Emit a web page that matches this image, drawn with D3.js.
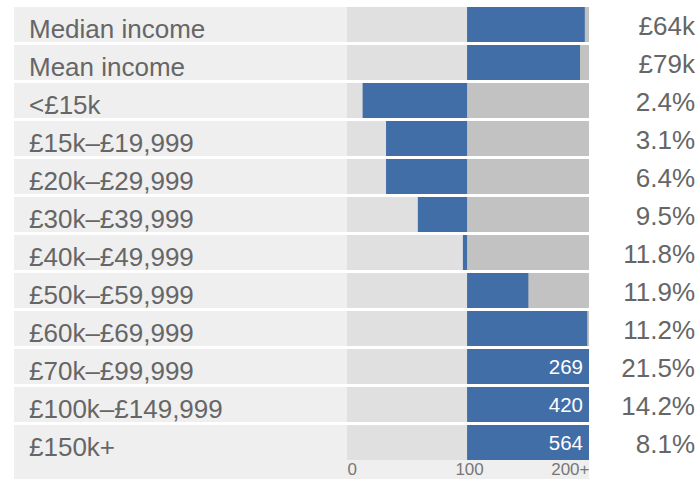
<!DOCTYPE html>
<html>
<head>
<meta charset="utf-8">
<script src="https://cdn.jsdelivr.net/npm/d3@7"></script>
<style>
  html, body { margin: 0; padding: 0; background: #fff; }
  svg { display: block; font-family: "Liberation Sans", Arial, sans-serif; }
</style>
</head>
<body>
<div id="chart"></div>
<script>
// Rows of the chart, top to bottom
const categories = [
    'Median income', 'Mean income', '<£15k', '£15k–£19,999', '£20k–£29,999',
    '£30k–£39,999', '£40k–£49,999', '£50k–£59,999', '£60k–£69,999',
    '£70k–£99,999', '£100k–£149,999', '£150k+'
];
// Index value (100 = reference)
const indexValues = [198, 194, 13, 32.5, 32.5, 59, 96.5, 151, 200, 269, 420, 564];
// Right-hand column
const rightLabels = ['£64k', '£79k', '2.4%', '3.1%', '6.4%', '9.5%', '11.8%', '11.9%', '11.2%', '21.5%', '14.2%', '8.1%'];
// Axis ticks
const tickValues = [0, 100, 201.5];
const tickLabels = ['0', '100', '200+'];

const W = 697, H = 479;
const svg = d3.select('#chart').append('svg')
    .attr('width', W)
    .attr('height', H);

const x = d3.scaleLinear()
    .domain([0, 201.5])
    .range([347, 589])
    .clamp(true);

const y = d3.scaleBand()
    .domain(categories)
    .range([7, 460])
    .paddingInner(0.079);

const panelLeft = 14;
const data = categories.map((c, i) => ({ name: c, value: indexValues[i], right: rightLabels[i] }));

// bottom strip under the axis
svg.append('rect')
    .attr('x', panelLeft)
    .attr('y', y(categories[categories.length - 1]) + y.bandwidth())
    .attr('width', x(201.5) - panelLeft)
    .attr('height', H)
    .attr('fill', '#efefef');

const rows = svg.selectAll('.row')
    .data(data)
    .enter()
    .append('g')
    .attr('class', 'row')
    .attr('transform', d => `translate(0,${y(d.name)})`);

// label panel
rows.append('rect')
    .attr('x', panelLeft)
    .attr('width', x(0) - panelLeft)
    .attr('height', y.bandwidth())
    .attr('fill', '#efefef');

// 0-100 zone
rows.append('rect')
    .attr('x', x(0))
    .attr('width', x(100) - x(0))
    .attr('height', y.bandwidth())
    .attr('fill', '#e0e0e0');

// 100-200+ zone
rows.append('rect')
    .attr('x', x(100))
    .attr('width', x(201.5) - x(100))
    .attr('height', y.bandwidth())
    .attr('fill', '#c2c2c2');

// bars grow from 100
rows.append('rect')
    .attr('x', d => Math.min(x(d.value), x(100)))
    .attr('width', d => Math.abs(x(d.value) - x(100)))
    .attr('height', y.bandwidth())
    .attr('fill', '#416ea7');

// values beyond the scale are written inside the bar
rows.filter(d => d.value > 201.5)
    .append('text')
    .attr('x', x(201.5) - 6)
    .attr('y', 25)
    .attr('text-anchor', 'end')
    .style('fill', '#fff')
    .style('font-size', '20.5px')
    .text(d => d.value);

rows.append('text')
    .attr('x', 29)
    .attr('y', 30.5)
    .style('fill', '#666')
    .style('font-size', '26px')
    .text(d => d.name);

rows.append('text')
    .attr('x', 695)
    .attr('y', 27.5)
    .attr('text-anchor', 'end')
    .style('fill', '#666')
    .style('font-size', '26px')
    .text(d => d.right);

// axis
const axis = svg.append('g')
    .attr('transform', `translate(0,${y(categories[categories.length - 1]) + y.bandwidth()})`)
    .call(d3.axisBottom(x).tickValues(tickValues).tickSize(0).tickPadding(0)
        .tickFormat((d, i) => tickLabels[i]));

axis.select('.domain').remove();
axis.selectAll('text')
    .attr('y', 15.3)
    .attr('dy', null)
    .style('fill', '#777')
    .style('font-size', '17px')
    .style('font-family', '"Liberation Sans", Arial, sans-serif')
    .attr('text-anchor', (d, i) => i === 0 ? 'start' : (i === tickValues.length - 1 ? 'end' : 'middle'))
    .attr('dx', (d, i) => i === 1 ? 2 : 0);
</script>
</body>
</html>
